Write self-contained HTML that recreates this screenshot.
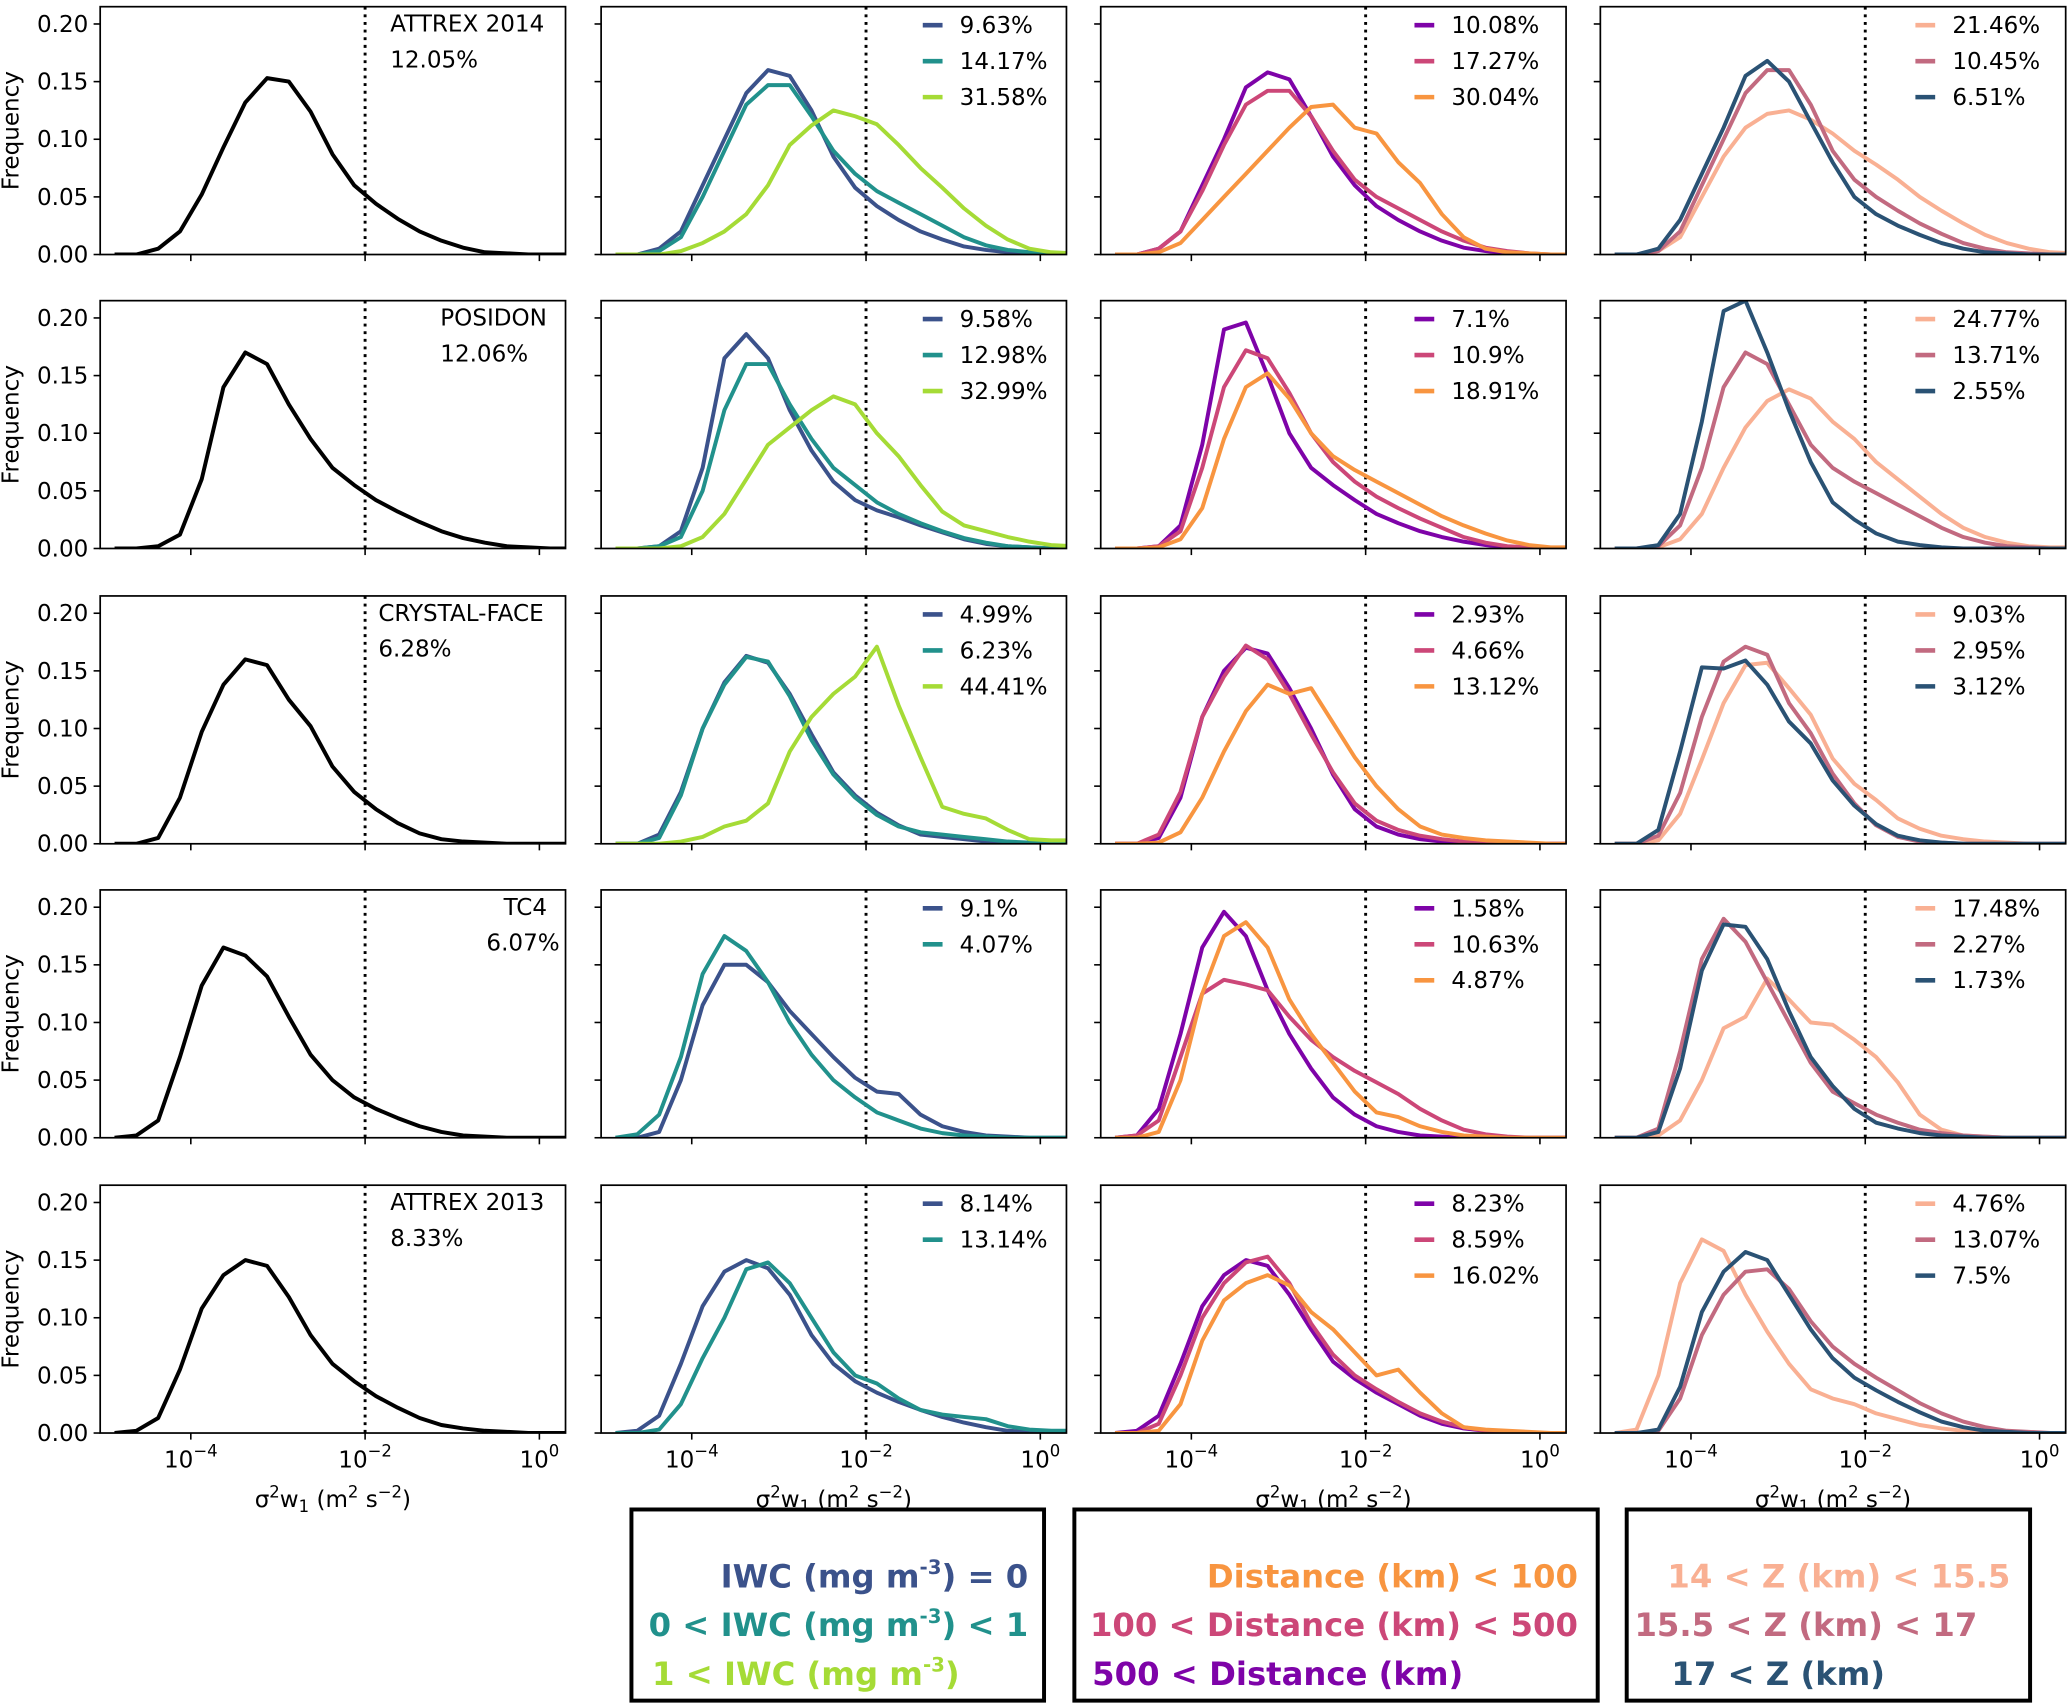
<!DOCTYPE html>
<html><head><meta charset="utf-8"><style>
html,body{margin:0;padding:0;background:#fff}
svg{display:block;font-family:"DejaVu Sans","Liberation Sans",sans-serif}
</style></head><body>
<svg id="fig" width="2067" height="1706" viewBox="0 0 1568 1294" xmlns="http://www.w3.org/2000/svg">
<g id="panels"></g>
<g font-weight="bold" font-size="24.5" text-anchor="end">
<rect x="479" y="1145" width="313" height="145" fill="#fff" stroke="#000" stroke-width="3"/>
<text x="780" y="1204" fill="#3b528b">IWC (mg m<tspan font-size="15" dy="-10">-3</tspan><tspan dy="10">) = 0</tspan></text>
<text x="780" y="1241" fill="#21918c">0 &lt; IWC (mg m<tspan font-size="15" dy="-10">-3</tspan><tspan dy="10">) &lt; 1</tspan></text>
<text x="728" y="1278" fill="#a5db36">1 &lt; IWC (mg m<tspan font-size="15" dy="-10">-3</tspan><tspan dy="10">)</tspan></text>
</g>
<g font-weight="bold" font-size="24.5" text-anchor="end">
<rect x="815" y="1145" width="397" height="145" fill="#fff" stroke="#000" stroke-width="3"/>
<text x="1197" y="1204" fill="#f89540">Distance (km) &lt; 100</text>
<text x="1197" y="1241" fill="#cc4778">100 &lt; Distance (km) &lt; 500</text>
<text x="1110" y="1278" fill="#7e03a8">500 &lt; Distance (km)</text>
</g>
<g font-weight="bold" font-size="24.5" text-anchor="end">
<rect x="1234" y="1145" width="306" height="145" fill="#fff" stroke="#000" stroke-width="3"/>
<text x="1525" y="1204" fill="#f9b093">14 &lt; Z (km) &lt; 15.5</text>
<text x="1500" y="1241" fill="#c26a80">15.5 &lt; Z (km) &lt; 17</text>
<text x="1430" y="1278" fill="#2a5274">17 &lt; Z (km)</text>
</g>
</svg>
<script>
const binStart = -4.875, binStep = 0.25;
const yTicks = [0, 0.05, 0.10, 0.15, 0.20];
const yTickLabels = ["0.00", "0.05", "0.10", "0.15", "0.20"];
const xTicks = [-4, -2, 0];
const xTickLabels = ["-4", "-2", "0"];
const campaigns = ["ATTREX 2014", "POSIDON", "CRYSTAL-FACE", "TC4", "ATTREX 2013"];
const campaignPct = ["12.05%", "12.06%", "6.28%", "6.07%", "8.33%"];

const allData = [
 [0,0,0.005,0.02,0.052,0.093,0.132,0.153,0.15,0.124,0.087,0.06,0.044,0.031,0.02,0.012,0.006,0.002,0.001,0,0,0],
 [0,0,0.002,0.012,0.06,0.14,0.17,0.16,0.125,0.095,0.07,0.055,0.042,0.032,0.023,0.015,0.009,0.005,0.002,0.001,0,0],
 [0,0,0.005,0.04,0.097,0.138,0.16,0.155,0.125,0.102,0.067,0.045,0.03,0.018,0.009,0.004,0.002,0.001,0,0,0,0],
 [0,0.002,0.015,0.07,0.132,0.165,0.158,0.14,0.105,0.072,0.05,0.035,0.025,0.017,0.01,0.005,0.002,0.001,0,0,0,0],
 [0,0.002,0.013,0.055,0.108,0.137,0.15,0.145,0.118,0.085,0.06,0.045,0.032,0.022,0.013,0.007,0.004,0.002,0.001,0,0,0]
];
const iwcZero = [
 [0,0,0.005,0.02,0.06,0.1,0.14,0.16,0.155,0.125,0.085,0.058,0.042,0.03,0.02,0.013,0.007,0.004,0.002,0.001,0,0],
 [0,0,0.002,0.015,0.07,0.165,0.186,0.165,0.12,0.085,0.058,0.042,0.033,0.027,0.02,0.014,0.008,0.004,0.002,0.001,0,0],
 [0,0,0.008,0.045,0.1,0.14,0.163,0.157,0.13,0.095,0.062,0.042,0.027,0.016,0.008,0.006,0.004,0.002,0.001,0,0,0],
 [0,0,0.005,0.05,0.115,0.15,0.15,0.135,0.11,0.09,0.07,0.052,0.04,0.038,0.02,0.01,0.005,0.002,0.001,0,0,0],
 [0,0.002,0.015,0.06,0.11,0.14,0.15,0.143,0.12,0.085,0.06,0.045,0.035,0.027,0.02,0.014,0.009,0.005,0.002,0.001,0,0]
];
const iwcLow = [
 [0,0,0.003,0.015,0.05,0.09,0.13,0.147,0.147,0.12,0.09,0.07,0.055,0.045,0.035,0.025,0.015,0.008,0.004,0.002,0,0],
 [0,0,0.002,0.01,0.05,0.12,0.16,0.16,0.125,0.095,0.07,0.055,0.04,0.03,0.022,0.015,0.009,0.005,0.002,0.001,0,0],
 [0,0,0.005,0.042,0.1,0.138,0.162,0.158,0.128,0.09,0.06,0.04,0.025,0.015,0.01,0.008,0.006,0.004,0.002,0.001,0,0],
 [0,0.003,0.02,0.07,0.142,0.175,0.162,0.135,0.1,0.072,0.05,0.035,0.022,0.015,0.008,0.004,0.002,0.001,0,0,0,0],
 [0,0,0.003,0.025,0.065,0.1,0.142,0.148,0.13,0.1,0.07,0.05,0.043,0.03,0.02,0.016,0.014,0.012,0.006,0.003,0.002,0.002]
];
const iwcHigh = [
 [0,0,0,0.003,0.01,0.02,0.035,0.06,0.095,0.112,0.125,0.12,0.113,0.095,0.075,0.058,0.04,0.025,0.013,0.005,0.002,0.001],
 [0,0,0,0.002,0.01,0.03,0.06,0.09,0.105,0.12,0.132,0.125,0.1,0.08,0.055,0.032,0.02,0.015,0.01,0.006,0.003,0.002],
 [0,0,0,0.002,0.006,0.015,0.02,0.035,0.08,0.11,0.13,0.145,0.171,0.12,0.075,0.032,0.026,0.022,0.012,0.004,0.003,0.003],
 null, null
];
const iwcPct = [["9.63%","14.17%","31.58%"],["9.58%","12.98%","32.99%"],["4.99%","6.23%","44.41%"],["9.1%","4.07%"],["8.14%","13.14%"]];

const distFar = [
 [0,0,0.005,0.02,0.06,0.1,0.145,0.158,0.152,0.12,0.085,0.06,0.042,0.03,0.02,0.012,0.006,0.003,0.001,0,0,0],
 [0,0,0.002,0.02,0.09,0.19,0.196,0.15,0.1,0.07,0.055,0.042,0.03,0.022,0.015,0.01,0.006,0.003,0.001,0,0,0],
 [0,0,0.005,0.04,0.11,0.15,0.17,0.165,0.135,0.1,0.06,0.03,0.015,0.008,0.004,0.002,0.001,0,0,0,0,0],
 [0,0.002,0.025,0.09,0.165,0.196,0.175,0.128,0.09,0.06,0.035,0.02,0.01,0.005,0.002,0.001,0,0,0,0,0,0],
 [0,0.002,0.015,0.06,0.11,0.137,0.15,0.145,0.12,0.09,0.062,0.047,0.035,0.025,0.015,0.008,0.004,0.002,0.001,0,0,0]
];
const distMid = [
 [0,0,0.005,0.02,0.055,0.095,0.13,0.142,0.142,0.12,0.09,0.065,0.05,0.04,0.03,0.02,0.012,0.006,0.003,0.001,0,0],
 [0,0,0.002,0.015,0.07,0.14,0.172,0.165,0.135,0.1,0.075,0.058,0.045,0.035,0.026,0.018,0.01,0.005,0.002,0.001,0,0],
 [0,0,0.008,0.045,0.11,0.145,0.172,0.16,0.13,0.095,0.062,0.035,0.02,0.012,0.007,0.004,0.002,0.001,0,0,0,0],
 [0,0.002,0.015,0.07,0.125,0.137,0.133,0.128,0.105,0.085,0.07,0.058,0.048,0.038,0.025,0.015,0.007,0.003,0.001,0,0,0],
 [0,0,0.008,0.05,0.1,0.13,0.148,0.153,0.13,0.095,0.068,0.05,0.038,0.027,0.017,0.01,0.005,0.002,0.001,0,0,0]
];
const distNear = [
 [0,0,0.002,0.01,0.03,0.05,0.07,0.09,0.11,0.128,0.13,0.11,0.105,0.08,0.062,0.035,0.015,0.005,0.002,0.001,0,0],
 [0,0,0.001,0.008,0.035,0.095,0.14,0.152,0.13,0.1,0.08,0.068,0.058,0.048,0.038,0.028,0.02,0.013,0.007,0.003,0.001,0.001],
 [0,0,0.001,0.01,0.04,0.08,0.115,0.138,0.13,0.135,0.105,0.075,0.05,0.03,0.015,0.008,0.005,0.003,0.002,0.001,0,0],
 [0,0,0.005,0.05,0.125,0.175,0.187,0.165,0.12,0.09,0.065,0.04,0.022,0.018,0.01,0.005,0.002,0.001,0,0,0,0],
 [0,0,0.002,0.025,0.08,0.115,0.13,0.137,0.128,0.105,0.09,0.07,0.05,0.055,0.035,0.017,0.005,0.003,0.002,0.001,0,0]
];
const distPct = [["10.08%","17.27%","30.04%"],["7.1%","10.9%","18.91%"],["2.93%","4.66%","13.12%"],["1.58%","10.63%","4.87%"],["8.23%","8.59%","16.02%"]];

const zLow = [
 [0,0,0.003,0.015,0.05,0.085,0.11,0.122,0.125,0.117,0.105,0.09,0.078,0.065,0.05,0.038,0.027,0.017,0.01,0.005,0.002,0.001],
 [0,0,0.001,0.008,0.03,0.07,0.105,0.128,0.138,0.13,0.11,0.095,0.075,0.06,0.045,0.03,0.018,0.01,0.005,0.002,0.001,0.001],
 [0,0,0.003,0.026,0.073,0.122,0.155,0.157,0.135,0.112,0.074,0.052,0.038,0.022,0.013,0.007,0.004,0.002,0.001,0,0,0],
 [0,0,0.002,0.015,0.05,0.095,0.105,0.138,0.12,0.1,0.098,0.085,0.07,0.048,0.02,0.007,0.002,0.001,0,0,0,0],
 [0,0.003,0.05,0.13,0.168,0.158,0.12,0.088,0.06,0.038,0.03,0.025,0.017,0.012,0.007,0.004,0.002,0.001,0,0,0,0]
];
const zMid = [
 [0,0,0.003,0.02,0.06,0.1,0.14,0.16,0.16,0.13,0.09,0.065,0.05,0.038,0.027,0.018,0.01,0.005,0.002,0.001,0,0],
 [0,0,0.002,0.02,0.07,0.14,0.17,0.16,0.125,0.09,0.07,0.058,0.048,0.038,0.028,0.018,0.01,0.005,0.002,0.001,0,0],
 [0,0,0.007,0.044,0.11,0.158,0.171,0.164,0.122,0.096,0.061,0.035,0.016,0.006,0.002,0.001,0,0,0,0,0,0],
 [0,0,0.008,0.075,0.155,0.19,0.17,0.135,0.1,0.065,0.04,0.03,0.02,0.013,0.007,0.004,0.002,0.001,0,0,0,0],
 [0,0,0.002,0.03,0.085,0.12,0.14,0.142,0.125,0.097,0.075,0.06,0.048,0.037,0.026,0.017,0.01,0.005,0.002,0.001,0,0]
];
const zHigh = [
 [0,0,0.005,0.03,0.07,0.11,0.155,0.168,0.15,0.115,0.08,0.05,0.035,0.025,0.017,0.01,0.005,0.002,0.001,0,0,0],
 [0,0,0.003,0.03,0.11,0.206,0.215,0.17,0.12,0.075,0.04,0.025,0.013,0.006,0.003,0.001,0,0,0,0,0,0],
 [0,0,0.012,0.08,0.153,0.152,0.159,0.138,0.106,0.087,0.055,0.033,0.017,0.007,0.003,0.001,0,0,0,0,0,0],
 [0,0,0.005,0.06,0.145,0.185,0.183,0.155,0.11,0.07,0.045,0.025,0.013,0.008,0.004,0.002,0.001,0,0,0,0,0],
 [0,0,0.003,0.04,0.105,0.14,0.157,0.15,0.12,0.09,0.065,0.048,0.037,0.027,0.018,0.01,0.005,0.002,0.001,0,0,0]
];
const zPct = [["21.46%","10.45%","6.51%"],["24.77%","13.71%","2.55%"],["9.03%","2.95%","3.12%"],["17.48%","2.27%","1.73%"],["4.76%","13.07%","7.5%"]];

const NS = "http://www.w3.org/2000/svg";
const colLeft = [76, 456, 835, 1214], rowTop = [5, 228, 452, 675, 899];
const PW = 353, PH = 188, XMIN = -5.04, XMAX = 0.30, YMAX = 0.215;
function xScale(c, lg) { return colLeft[c] + (lg - XMIN) / (XMAX - XMIN) * PW; }
function yScale(r, v) { return rowTop[r] + PH - v / YMAX * PH; }
function mk(tag, attrs, parent) { const e = document.createElementNS(NS, tag); for (const k in attrs) e.setAttribute(k, attrs[k]); parent.appendChild(e); return e; }
const root = document.getElementById("panels");

const colSeries = [
  [{d: allData, color: "#000"}],
  [{d: iwcZero, color: "#3b528b"}, {d: iwcLow, color: "#21918c"}, {d: iwcHigh, color: "#a5db36"}],
  [{d: distFar, color: "#7e03a8"}, {d: distMid, color: "#cc4778"}, {d: distNear, color: "#f89540"}],
  [{d: zLow, color: "#f9b093"}, {d: zMid, color: "#c26a80"}, {d: zHigh, color: "#2a5274"}]
];
const legendPct = [null, iwcPct, distPct, zPct];
const legendX = [0, 700, 1073, 1453];
const FS = 17.5;

for (let r = 0; r < 5; r++) {
  for (let c = 0; c < 4; c++) {
    const g = mk("g", {}, root);
    
    
    const L = colLeft[c], T = rowTop[r];
    const cid = "clip" + r + c;
    const cp = mk("clipPath", {id: cid}, g);
    mk("rect", {x: L, y: T, width: PW, height: PH}, cp);
    const dl = mk("line", {x1: xScale(c, -2), x2: xScale(c, -2), y1: T, y2: T + PH, stroke: "#000", "stroke-width": 2.2, "stroke-dasharray": "2.2 3.6"}, g);
    
    
    const sg = mk("g", {"clip-path": "url(#" + cid + ")"}, g);
    colSeries[c].forEach((s, si) => {
      const vals = s.d[r];
      if (!vals) return;
      const pts = vals.map((v, k) => xScale(c, binStart + binStep * k).toFixed(1) + "," + yScale(r, v).toFixed(1)).join(" ");
      const pl = mk("polyline", {points: pts, fill: "none", stroke: s.color, "stroke-width": 3, "stroke-linejoin": "round"}, sg);
      
      
    });
    mk("rect", {x: L, y: T, width: PW, height: PH, fill: "none", stroke: "#000", "stroke-width": 1.3}, g);
    yTicks.forEach((t, i) => {
      const y = yScale(r, t);
      mk("line", {x1: L - 5, x2: L, y1: y, y2: y, stroke: "#000", "stroke-width": 1.2}, g);
      if (c === 0) {
        const tx = mk("text", {x: L - 9, y: y + 6, "font-size": FS, "text-anchor": "end"}, g);
        tx.textContent = yTickLabels[i];
        
        
      }
    });
    xTicks.forEach((t, i) => {
      const x = xScale(c, t);
      mk("line", {x1: x, x2: x, y1: T + PH, y2: T + PH + 5, stroke: "#000", "stroke-width": 1.2}, g);
      if (r === 4) {
        const tx = mk("text", {x: x, y: T + PH + 26, "font-size": FS, "text-anchor": "middle"}, g);
        tx.innerHTML = '10<tspan font-size="12.5" dy="-8">' + xTickLabels[i].replace("-", "\u2212") + '</tspan>';
        
        
      }
    });
    if (r === 4) {
      const xl = mk("text", {x: L + PW / 2, y: T + PH + 56, "font-size": FS, "text-anchor": "middle"}, g);
      xl.innerHTML = '\u03C3<tspan font-size="12.5" dy="-7">2</tspan><tspan dy="7">w</tspan><tspan font-size="12.5" dy="4">1</tspan><tspan dy="-4"> (m</tspan><tspan font-size="12.5" dy="-7">2</tspan><tspan dy="7"> s</tspan><tspan font-size="12.5" dy="-7">\u22122</tspan><tspan dy="7">)</tspan>';
      
      
    }
    if (c === 0) {
      const yl = mk("text", {x: 0, y: 0, "font-size": FS, "text-anchor": "middle", transform: "translate(14," + (T + PH / 2) + ") rotate(-90)"}, g);
      yl.textContent = "Frequency";
      
      
      const lefts = [296, 334, 287, 369, 296];
      const nm = mk("text", {x: (r === 3 ? 382 : lefts[r]), y: T + 19, "font-size": FS}, g);
      nm.textContent = campaigns[r];
      
      
      const pc = mk("text", {x: lefts[r], y: T + 46, "font-size": FS}, g);
      pc.textContent = campaignPct[r];
      
      
    } else {
      const pcts = legendPct[c][r];
      pcts.forEach((p, i) => {
        const y = T + 20 + i * 27.3;
        const lg = mk("g", {}, g);
        
        
        mk("line", {x1: legendX[c], x2: legendX[c] + 15, y1: y - 6, y2: y - 6, stroke: colSeries[c][i].color, "stroke-width": 3.5}, lg);
        const t = mk("text", {x: legendX[c] + 28, y: y, "font-size": FS}, lg);
        t.textContent = p;
      });
    }
  }
}
</script>
</body></html>
